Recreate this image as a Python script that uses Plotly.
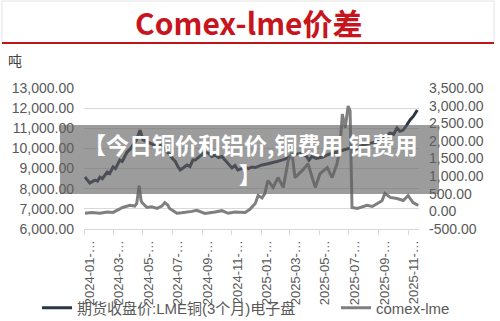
import plotly.graph_objects as go

# ---------------- data ----------------
lme_dates = ["2024-01-03","2024-01-08","2024-01-13","2024-01-18","2024-01-24","2024-01-29","2024-02-03","2024-02-08",
             "2024-02-13","2024-02-18","2024-02-23","2024-03-01","2024-03-06","2024-03-10","2024-03-15","2024-03-20",
             "2024-03-25","2024-03-30","2024-04-05","2024-04-11","2024-04-18","2024-04-26","2024-04-29","2024-05-02",
             "2024-05-09","2024-05-16","2024-05-24","2024-06-02","2024-06-10","2024-06-15","2024-06-21","2024-06-26",
             "2024-07-01","2024-07-08","2024-07-13","2024-07-18","2024-07-25","2024-08-01","2024-08-07","2024-08-13",
             "2024-08-18","2024-08-27","2024-09-07","2024-09-15","2024-09-21","2024-09-28","2024-10-05","2024-10-12",
             "2024-10-19","2024-10-26","2024-11-02","2024-11-08","2024-11-14","2024-11-22","2024-11-29","2024-12-06",
             "2024-12-13","2024-12-20","2024-12-27","2025-01-03","2025-01-13","2025-01-24","2025-02-03","2025-02-13",
             "2025-02-23","2025-03-06","2025-03-16","2025-03-27","2025-04-05","2025-04-10","2025-04-16","2025-04-25",
             "2025-05-09","2025-05-20","2025-06-07","2025-06-20","2025-07-04","2025-07-15","2025-07-31","2025-08-12",
             "2025-08-29","2025-09-10","2025-09-25","2025-10-02","2025-10-09","2025-10-15","2025-10-22","2025-10-29",
             "2025-11-05","2025-11-12","2025-11-20"]
lme_values = [8580,8450,8280,8350,8430,8380,8580,8500,
              8650,8830,8750,9080,9000,9200,9420,9350,
              9600,9820,9950,10170,10400,10910,10650,10420,
              10350,10270,10150,10070,10200,9950,9820,9700,
              9520,9350,9100,8930,9050,9180,9100,9420,
              9420,9600,9820,9750,9600,9670,9550,9600,
              9420,9250,9030,9150,8930,9000,9080,9000,
              9080,9050,9120,9180,9230,9280,9350,9420,
              9500,9670,9720,9770,9600,9420,9600,9500,
              9570,9700,9820,9920,10020,9950,10170,10250,
              10320,10500,10770,10700,11010,10850,10910,11150,
              11410,11600,11910]

spread_dates = ["2024-01-03","2024-01-17","2024-02-03","2024-02-18","2024-03-01","2024-03-11","2024-03-21","2024-04-05",
                "2024-04-15","2024-04-19","2024-04-24","2024-04-28","2024-04-30","2024-05-10","2024-05-20","2024-05-31",
                "2024-06-10","2024-06-16","2024-06-22","2024-06-26","2024-07-11","2024-07-21","2024-08-01","2024-08-11",
                "2024-08-21","2024-09-07","2024-09-28","2024-10-12","2024-10-25","2024-11-08","2024-11-29","2024-12-09",
                "2024-12-20","2024-12-26","2025-01-03","2025-01-09","2025-01-15","2025-01-26","2025-02-05","2025-02-16",
                "2025-02-26","2025-03-06","2025-03-12","2025-03-27","2025-04-08","2025-04-19","2025-04-23","2025-05-03",
                "2025-05-18","2025-05-28","2025-06-07","2025-06-13","2025-06-18","2025-06-24","2025-06-30","2025-07-04",
                "2025-07-08","2025-07-19","2025-07-29","2025-08-08","2025-08-19","2025-08-29","2025-09-08","2025-09-14",
                "2025-09-25","2025-10-09","2025-10-22","2025-11-01","2025-11-11","2025-11-22"]
spread_values = [-50,-30,-50,-20,-30,40,110,170,
                 150,225,730,300,250,110,130,85,
                 150,250,180,85,-55,-40,-30,0,
                 30,-60,-20,20,-55,-20,-30,60,
                 225,450,380,510,875,680,960,680,
                 1440,1660,960,1155,1350,875,680,1070,
                 1240,960,1350,1800,2760,2370,2990,2850,
                 110,85,130,170,140,225,300,510,
                 395,365,310,450,250,170]

x_tick_vals = ["2024-01-01","2024-03-01","2024-05-01","2024-07-01","2024-09-01","2024-11-01",
               "2025-01-01","2025-03-01","2025-05-01","2025-07-01","2025-09-01","2025-11-01"]
x_tick_text = [v[:8] + "…" for v in x_tick_vals]
left_tick_vals = [6000, 7000, 8000, 9000, 10000, 11000, 12000, 13000]
left_tick_text = ["6,000.00","7,000.00","8,000.00","9,000.00","10,000.00","11,000.00","12,000.00","13,000.00"]
right_tick_vals = [-500, 0, 500, 1000, 1500, 2000, 2500, 3000, 3500]
right_tick_text = ["-500.00","0.00","500.00","1,000.00","1,500.00","2,000.00","2,500.00","3,000.00","3,500.00"]

name_lme = "期货收盘价:LME铜(3个月)电子盘"
name_spread = "comex-lme"
title_text = "Comex-lme价差"
unit_text = "吨"
banner_text = "【今日铜价和铝价,铜费用 铝费用<br>】"

# ---------------- layout geometry (pixels) ----------------
W, H = 500, 321
PL, PR, PT, PB = 84, 419, 88, 229   # plot area


def px(x):
    return (x - PL) / (PR - PL)


def py(y):
    return (PB - y) / (PB - PT)


FONT = "Liberation Sans, Arial, Noto Sans CJK SC"
GREY_TXT = "#595959"

fig = go.Figure()
fig.add_trace(go.Scatter(x=lme_dates, y=lme_values, name=name_lme, mode="lines",
                         line=dict(color="#2a3645", width=3), yaxis="y", legend="legend"))
fig.add_trace(go.Scatter(x=spread_dates, y=spread_values, name=name_spread, mode="lines",
                         line=dict(color="#7f7f7f", width=3), yaxis="y2", legend="legend2"))

legend_common = dict(orientation="h", xanchor="left", yanchor="middle",
                     font=dict(size=15, color=GREY_TXT, family=FONT),
                     bgcolor="rgba(0,0,0,0)", borderwidth=0)

fig.update_layout(
    width=W, height=H,
    margin=dict(l=PL, r=W - PR, t=PT, b=H - PB, pad=0, autoexpand=False),
    paper_bgcolor="white", plot_bgcolor="white",
    font=dict(family=FONT, color=GREY_TXT, size=13),
    showlegend=True,
    legend=dict(x=px(37), y=py(308), **legend_common),
    legend2=dict(x=px(336), y=py(308), **legend_common),
    xaxis=dict(type="date", range=["2024-01-01", "2025-11-23 12:00"],
               tickvals=x_tick_vals, ticktext=x_tick_text, tickangle=-90,
               tickfont=dict(size=13, color=GREY_TXT), automargin=False,
               showgrid=False, showline=True, linecolor="#d9d9d9", linewidth=1,
               ticks="outside", ticklen=5, tickcolor="#d9d9d9", ticklabelshift=6,
               zeroline=False),
    yaxis=dict(range=[6000, 13000], tickvals=left_tick_vals, ticktext=left_tick_text,
               showgrid=True, gridcolor="#d9d9d9", gridwidth=1, zeroline=False,
               showline=False, ticks="", ticklabelstandoff=9, automargin=False,
               tickfont=dict(size=14, color=GREY_TXT)),
    yaxis2=dict(range=[-500, 3500], tickvals=right_tick_vals, ticktext=right_tick_text,
                overlaying="y", side="right", showgrid=False, zeroline=False,
                showline=False, ticks="", ticklabelstandoff=9, automargin=False,
                tickfont=dict(size=14, color=GREY_TXT)),
)

# title box
fig.add_shape(type="rect", xref="paper", yref="paper",
              x0=px(2), x1=px(494), y0=py(43), y1=py(1),
              line=dict(color="#e3e3e3", width=1), fillcolor="white", layer="below")
fig.add_shape(type="line", xref="paper", yref="paper",
              x0=px(2), x1=px(494), y0=py(43), y1=py(43),
              line=dict(color="#c0141c", width=2))
fig.add_annotation(text="<b>" + title_text + "</b>", xref="paper", yref="paper",
                   x=px(249), y=py(22), xanchor="center", yanchor="middle", showarrow=False,
                   font=dict(size=30, color="#c8141c", family="Noto Sans CJK SC, Liberation Sans"))
fig.add_annotation(text=unit_text, xref="paper", yref="paper",
                   x=px(6), y=py(60), xanchor="left", yanchor="middle", showarrow=False,
                   font=dict(size=14, color="#404040", family="Noto Sans CJK SC"))

# overlay banner
fig.add_shape(type="rect", xref="paper", yref="paper",
              x0=px(60), x1=px(439), y0=py(194), y1=py(125),
              line=dict(width=0), fillcolor="rgba(95,95,95,0.62)", layer="above")
fig.add_annotation(text="<b>" + banner_text + "</b>", xref="paper", yref="paper",
                   x=px(250), y=py(159), xanchor="center", yanchor="middle", showarrow=False,
                   align="center",
                   font=dict(size=23, color="white", family="Noto Sans CJK SC"))

fig.write_html("out.html")
